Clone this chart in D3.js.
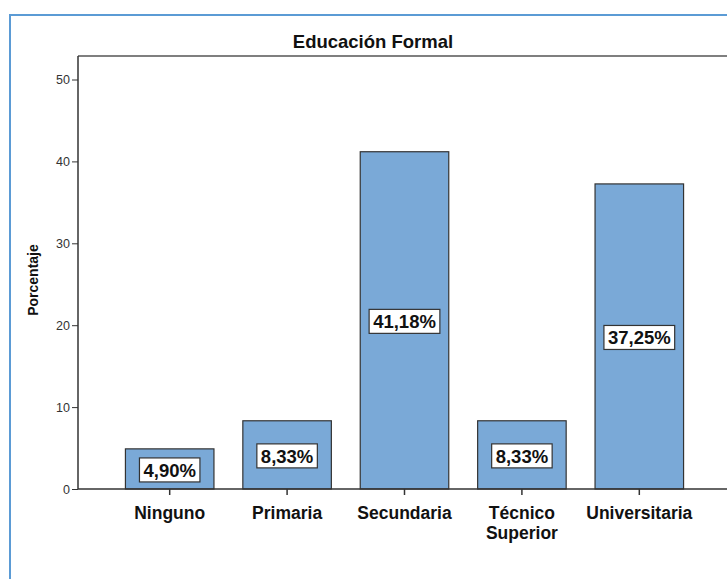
<!DOCTYPE html>
<html>
<head>
<meta charset="utf-8">
<script src="https://cdn.jsdelivr.net/npm/d3@7"></script>
<style>
body { margin:0; background:#fff; }
text { font-family: "Liberation Sans", Arial, sans-serif; }
</style>
</head>
<body>
<div id="chart"></div>
<script>
var categories = ["Ninguno", "Primaria", "Secundaria", "Técnico Superior", "Universitaria"];
var categoryLines = [["Ninguno"], ["Primaria"], ["Secundaria"], ["Técnico", "Superior"], ["Universitaria"]];
var values = [4.90, 8.33, 41.18, 8.33, 37.25];
var valueLabels = ["4,90%", "8,33%", "41,18%", "8,33%", "37,25%"];
var yTicks = [0, 10, 20, 30, 40, 50];

var screen = {width:727, height:579};
var margins = {top:56, left:78, right:-4, bottom:90};
var graph = {
    width: screen.width - margins.left - margins.right,
    height: screen.height - margins.top - margins.bottom
};

var svg = d3.select("#chart")
    .append("svg")
    .attr("width", screen.width)
    .attr("height", screen.height);

//blue outline round the picture
svg.append("rect")
    .attr("x", 10).attr("y", 15)
    .attr("width", 740).attr("height", 600)
    .attr("fill", "none")
    .attr("stroke", "#5b9bd5")
    .attr("stroke-width", 2);

var xScale = d3.scaleBand()
    .domain(categories)
    .range([0, graph.width])
    .paddingInner(0.246)
    .paddingOuter(0.404);

// 0 at y=489, 50 at y=79.5
var yScale = d3.scaleLinear()
    .domain([0, 50])
    .range([489 - margins.top, 79.5 - margins.top]);

var g = svg.append("g")
    .attr("transform", "translate(" + margins.left + "," + margins.top + ")");

//frame top line
g.append("line")
    .attr("x1", 0).attr("x2", graph.width)
    .attr("y1", 0).attr("y2", 0)
    .attr("stroke", "#555").attr("stroke-width", 1.5);

//bars
g.selectAll("rect.bar")
    .data(values)
    .enter()
    .append("rect")
    .attr("class", "bar")
    .attr("x", function(d, i) { return xScale(categories[i]); })
    .attr("y", function(d) { return yScale(d); })
    .attr("width", xScale.bandwidth())
    .attr("height", function(d) { return yScale(0) - yScale(d); })
    .attr("fill", "#7aa9d7")
    .attr("stroke", "#333")
    .attr("stroke-width", 1.2);

//y axis
var yAxis = d3.axisLeft(yScale).tickValues(yTicks).tickSize(6).tickPadding(2);
var ya = g.append("g").call(yAxis);
ya.select(".domain").attr("d", "M0," + yScale(0) + "V0").attr("stroke", "#333").attr("stroke-width", 1.5);
ya.selectAll(".tick line").attr("stroke", "#333");
ya.selectAll(".tick text").attr("font-size", 12.5).attr("fill", "#333");

//x axis
var xAxis = d3.axisBottom(xScale).tickSize(6).tickFormat("");
var xa = g.append("g")
    .attr("transform", "translate(0," + yScale(0) + ")")
    .call(xAxis);
xa.select(".domain").attr("d", "M0,0H" + graph.width).attr("stroke", "#333").attr("stroke-width", 1.5);
xa.selectAll(".tick line").attr("stroke", "#333").attr("stroke-width", 1.5);

//category labels, one text per line
var cats = g.selectAll("g.cat")
    .data(categoryLines)
    .enter()
    .append("g")
    .attr("class", "cat")
    .attr("transform", function(d, i) {
        return "translate(" + (xScale(categories[i]) + xScale.bandwidth() / 2) + "," + (yScale(0) + 30) + ")";
    });
cats.selectAll("text")
    .data(function(d) { return d; })
    .enter()
    .append("text")
    .attr("text-anchor", "middle")
    .attr("font-size", 17.5)
    .attr("font-weight", "bold")
    .attr("fill", "#111")
    .attr("y", function(d, i) { return i * 20; })
    .text(function(d) { return d; });

//value labels in white boxes
var vl = g.selectAll("g.vlab")
    .data(values)
    .enter()
    .append("g")
    .attr("class", "vlab")
    .attr("transform", function(d, i) {
        var cx = xScale(categories[i]) + xScale.bandwidth() / 2;
        var cy = (yScale(d) + yScale(0)) / 2 + 1;
        return "translate(" + cx + "," + cy + ")";
    });
vl.append("text")
    .attr("text-anchor", "middle")
    .attr("dy", "0.36em")
    .attr("font-size", 18.5)
    .attr("font-weight", "bold")
    .attr("fill", "#111")
    .text(function(d, i) { return valueLabels[i]; });
vl.each(function() {
    var t = d3.select(this).select("text");
    var bb = t.node().getBBox();
    d3.select(this).insert("rect", "text")
        .attr("x", bb.x - 4).attr("y", -12)
        .attr("width", bb.width + 8).attr("height", 24)
        .attr("fill", "#fff")
        .attr("stroke", "#333")
        .attr("stroke-width", 1.2);
});

//title
svg.append("text")
    .attr("x", 373).attr("y", 48)
    .attr("text-anchor", "middle")
    .attr("font-size", 18.5)
    .attr("font-weight", "bold")
    .attr("fill", "#111")
    .text("Educación Formal");

//y axis title
svg.append("text")
    .attr("transform", "translate(38,280) rotate(-90)")
    .attr("text-anchor", "middle")
    .attr("font-size", 14)
    .attr("font-weight", "bold")
    .attr("fill", "#111")
    .text("Porcentaje");
</script>
</body>
</html>
